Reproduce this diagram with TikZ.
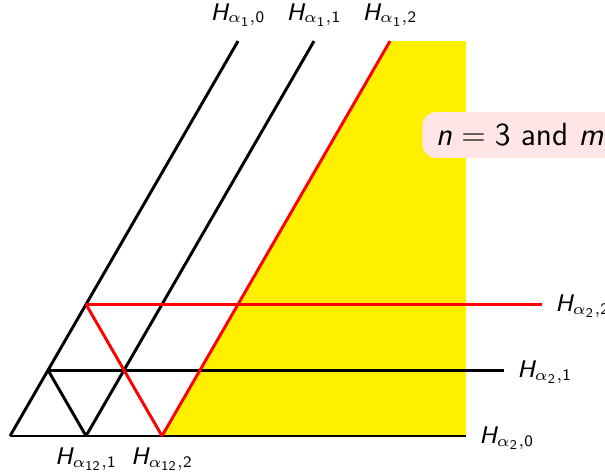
\documentclass[tikz,border=0pt]{standalone}
\usetikzlibrary{positioning}
\renewcommand{\familydefault}{\sfdefault}
\DeclareMathAlphabet{\mathsfsl}{OT1}{cmss}{m}{sl}
\newcommand{\hyp}[2]{$\mathsfsl{H}_{\alpha_{\mathsf{#1}},\mathsf{#2}}$}
\definecolor{chamber}{RGB}{255,240,0}
\tikzstyle{wall} = [line width=1.1pt, black]
\tikzstyle{redwall} = [line width=1.1pt, red]
\tikzstyle{hlabel} = [font=\small, inner sep=2pt]
\tikzstyle{rlabel} = [hlabel, anchor=base west, xshift=0.1cm, yshift=-0.1cm]
\tikzstyle{note} = [fill=red!10, rounded corners=5pt, inner xsep=5pt, minimum height=0.6cm, font=\large]

\begin{document}
\begin{tikzpicture}
        \useasboundingbox (-0.132,-0.461) rectangle (7.829,5.737);
        % end points of the walls
        \coordinate (a0) at (0,0);
        \coordinate (a1) at (1,0);
        \coordinate (a2) at (2,0);
        \coordinate (a0t) at (3,5.196);
        \coordinate (a1t) at (4,5.196);
        \coordinate (a2t) at (5,5.196);
        \coordinate (b0e) at (6,0);
        \coordinate (b1) at (0.5,0.866);
        \coordinate (b1e) at (6.5,0.866);
        \coordinate (b2) at (1,1.732);
        \coordinate (b2e) at (7,1.732);
        \coordinate (yt) at (6,5.196);
        % the chamber
        \fill[chamber] (a2) -- (a2t) -- (yt) -- (b0e) -- cycle;
        % black walls
        \draw[wall] (a0) -- (a0t);
        \draw[wall] (a1) -- (a1t);
        \draw[wall] (a0) -- (b0e);
        \draw[wall] (b1) -- (b1e);
        \draw[wall] (b1) -- (a1);
        % red walls
        \draw[redwall] (a2) -- (a2t);
        \draw[redwall] (b2) -- (b2e);
        \draw[redwall] (b2) -- (a2);
        % labels
        \node[hlabel, above=0.12cm of a0t] (la0) {\hyp{1}{0}};
        \node[hlabel, above=0.12cm of a1t] (la1) {\hyp{1}{1}};
        \node[hlabel, above=0.12cm of a2t] (la2) {\hyp{1}{2}};
        \node[rlabel] (lb0) at (b0e) {\hyp{2}{0}};
        \node[rlabel] (lb1) at (b1e) {\hyp{2}{1}};
        \node[rlabel] (lb2) at (b2e) {\hyp{2}{2}};
        \node[hlabel, below=0.08cm of a1] (lc1) {\hyp{12}{1}};
        \node[hlabel, below=0.08cm of a2] (lc2) {\hyp{12}{2}};
        \node[note, anchor=west] (cond) at (5.42,3.96) {$\mathsfsl{n}=\mathsf{3}$ and $\mathsfsl{m}=\mathsf{2}$};
    \end{tikzpicture}
\end{document}
